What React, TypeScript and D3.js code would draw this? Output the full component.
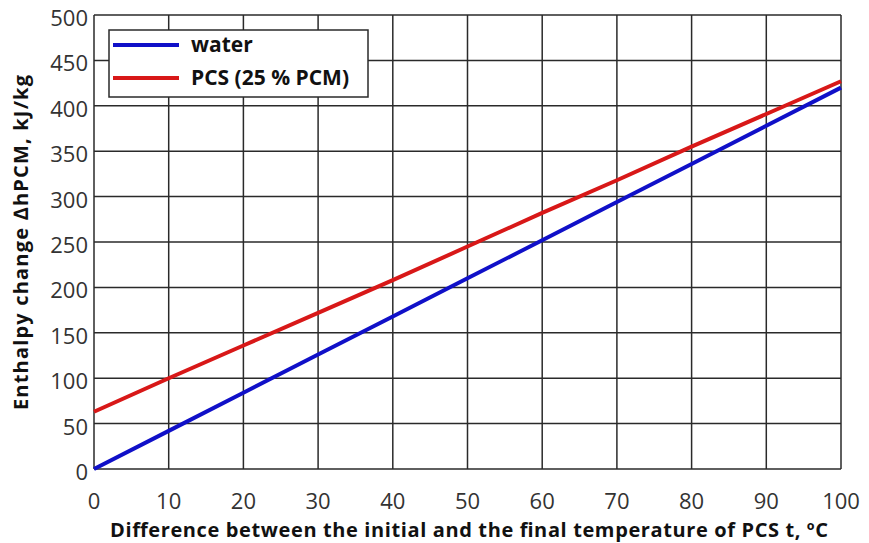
import React, { useEffect, useRef } from 'react';
import * as d3 from 'd3';

// Temperature difference, °C
const tempDiff = [0, 10, 20, 30, 40, 50, 60, 70, 80, 90, 100];
// Enthalpy change, kJ/kg
const waterValues = [0, 42, 84, 126, 168, 210, 252, 294, 336, 378, 420];
const pcsValues = [63, 100, 136, 172, 208, 245, 282, 318, 355, 391, 427];

const xTicks = [0, 10, 20, 30, 40, 50, 60, 70, 80, 90, 100];
const yTicks = [0, 50, 100, 150, 200, 250, 300, 350, 400, 450, 500];

const seriesNames = ['water', 'PCS (25 % PCM)'];
const seriesColors = ['#1010c8', '#d81818'];

const WIDTH = 869;
const HEIGHT = 543;

const App: React.FC = () => {
  const svgRef = useRef<SVGSVGElement>(null);

  useEffect(() => {
    if (!svgRef.current) return;
    const svg = d3.select(svgRef.current);
    svg.selectAll('*').remove();

    const margin = { top: 15, right: 28, bottom: 74, left: 94 };
    const innerWidth = WIDTH - margin.left - margin.right;
    const innerHeight = HEIGHT - margin.top - margin.bottom;
    const font = "'Open Sans', 'DejaVu Sans', sans-serif";

    const g = svg.append('g').attr('transform', `translate(${margin.left}, ${margin.top})`);

    const xScale = d3.scaleLinear().domain([0, 100]).range([0, innerWidth]);
    const yScale = d3.scaleLinear().domain([0, 500]).range([innerHeight, 0]);

    g.append('rect')
      .attr('width', innerWidth)
      .attr('height', innerHeight)
      .attr('fill', '#ffffff');

    // Grid
    g.selectAll('.vgrid')
      .data(xTicks)
      .enter()
      .append('line')
      .attr('x1', d => xScale(d))
      .attr('x2', d => xScale(d))
      .attr('y1', 0)
      .attr('y2', innerHeight)
      .attr('stroke', '#2a2a2a')
      .attr('stroke-width', 1.5);

    g.selectAll('.hgrid')
      .data(yTicks)
      .enter()
      .append('line')
      .attr('x1', 0)
      .attr('x2', innerWidth)
      .attr('y1', d => yScale(d))
      .attr('y2', d => yScale(d))
      .attr('stroke', '#2a2a2a')
      .attr('stroke-width', 1.5);

    // Tick labels
    g.selectAll('.xlabel')
      .data(xTicks)
      .enter()
      .append('text')
      .attr('x', d => xScale(d))
      .attr('y', innerHeight + 40)
      .attr('text-anchor', 'middle')
      .attr('font-family', font)
      .attr('font-size', '22px')
      .attr('fill', '#333')
      .text(d => String(d));

    g.selectAll('.ylabel')
      .data(yTicks)
      .enter()
      .append('text')
      .attr('x', -6)
      .attr('y', d => yScale(d) + 11)
      .attr('text-anchor', 'end')
      .attr('font-family', font)
      .attr('font-size', '22px')
      .attr('fill', '#333')
      .text(d => String(d));

    // Lines
    const line = d3.line<[number, number]>()
      .x(d => xScale(d[0]))
      .y(d => yScale(d[1]));

    [waterValues, pcsValues].forEach((vals, i) => {
      g.append('path')
        .datum(tempDiff.map((t, j) => [t, vals[j]] as [number, number]))
        .attr('fill', 'none')
        .attr('stroke', seriesColors[i])
        .attr('stroke-width', 4)
        .attr('d', line);
    });

    // Legend
    const legend = svg.append('g').attr('transform', 'translate(109, 30)');
    legend.append('rect')
      .attr('width', 259)
      .attr('height', 67)
      .attr('fill', '#ffffff')
      .attr('stroke', '#2a2a2a')
      .attr('stroke-width', 1.5);
    seriesNames.forEach((name, i) => {
      const y = 15 + i * 33;
      legend.append('line')
        .attr('x1', 4)
        .attr('x2', 70)
        .attr('y1', y)
        .attr('y2', y)
        .attr('stroke', seriesColors[i])
        .attr('stroke-width', 4);
      legend.append('text')
        .attr('x', 82)
        .attr('y', y + 7)
        .attr('font-family', font)
        .attr('font-size', '21px')
        .attr('font-weight', 'bold')
        .attr('fill', '#111')
        .text(name);
    });

    // Axis titles
    svg.append('text')
      .attr('x', 110)
      .attr('y', 537)
      .attr('textLength', 718)
      .attr('lengthAdjust', 'spacing')
      .attr('font-family', font)
      .attr('font-size', '20px')
      .attr('font-weight', 'bold')
      .attr('fill', '#111')
      .text('Difference between the initial and the final temperature of PCS t, ºC');

    svg.append('text')
      .attr('transform', 'translate(28, 410) rotate(-90)')
      .attr('textLength', 335)
      .attr('lengthAdjust', 'spacing')
      .attr('font-family', font)
      .attr('font-size', '20px')
      .attr('font-weight', 'bold')
      .attr('fill', '#111')
      .text('Enthalpy change ∆hPCM, kJ/kg');
  }, []);

  return (
    <div style={{ position: 'fixed', left: 0, top: 0 }}>
      <svg ref={svgRef} width={WIDTH} height={HEIGHT} style={{ display: 'block', background: '#fff' }} />
    </div>
  );
};

export default App;
